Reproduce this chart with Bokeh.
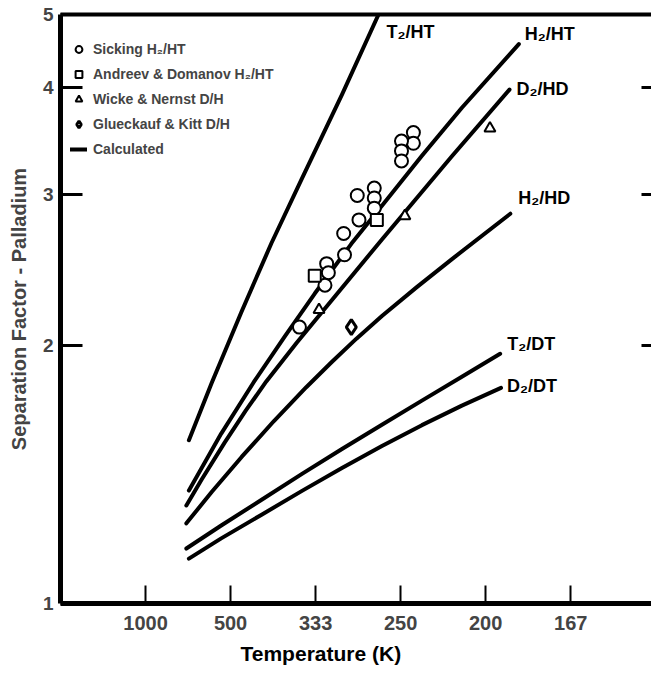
from bokeh.plotting import figure
from bokeh.models import (Range1d, FixedTicker, LinearAxis, LogAxis, Legend,
                          LegendItem, ColumnDataSource, Title)
from bokeh.embed import file_html
from bokeh.resources import INLINE
from bokeh.core.properties import value

# x axis is 1000/T, labelled with the temperature in K
x_ticks = [1, 2, 3, 4, 5, 6]
x_tick_labels = ["1000", "500", "333", "250", "200", "167"]
y_ticks = [1, 2, 3, 4, 4.86]
y_tick_labels = ["1", "2", "3", "4", "5"]
right_ticks = [2, 3, 4]

# Calculated separation factors
t2ht_x = [1.51, 1.78, 2.13, 2.48, 2.84, 3.31, 3.74]
t2ht_y = [1.55, 1.81, 2.19, 2.63, 3.13, 3.92, 4.86]
h2ht_x = [1.51, 1.89, 2.27, 2.64, 2.99, 3.42, 3.78, 4.25, 4.72, 5.39]
h2ht_y = [1.354, 1.578, 1.810, 2.050, 2.298, 2.626, 2.908, 3.326, 3.784, 4.489]
d2hd_x = [1.48, 1.66, 1.93, 2.18, 2.42, 2.78, 3.11, 3.78, 4.60, 5.28]
d2hd_y = [1.301, 1.395, 1.540, 1.679, 1.815, 2.015, 2.208, 2.657, 3.319, 3.973]
h2hd_x = [1.48, 1.78, 2.13, 2.51, 2.89, 3.19, 3.48, 3.78, 4.19, 4.60, 5.29]
h2hd_y = [1.240, 1.350, 1.482, 1.632, 1.787, 1.912, 2.036, 2.163, 2.338, 2.519, 2.847]
t2dt_x = [1.48, 1.89, 2.37, 2.84, 3.31, 3.78, 4.25, 4.72, 5.17]
t2dt_y = [1.159, 1.233, 1.322, 1.416, 1.514, 1.616, 1.724, 1.838, 1.955]
d2dt_x = [1.51, 1.89, 2.37, 2.84, 3.31, 3.78, 4.25, 4.72, 5.18]
d2dt_y = [1.128, 1.191, 1.270, 1.353, 1.439, 1.526, 1.614, 1.701, 1.784]

curve_names = ["T\u2082/HT", "H\u2082/HT", "D\u2082/HD", "H\u2082/HD", "T\u2082/DT", "D\u2082/DT"]

# Experimental data
sicking_x = [4.15, 4.15, 4.01, 4.01, 4.01, 3.49, 3.69, 3.69, 3.69, 3.51, 3.33, 3.34, 3.13, 3.15, 3.11, 2.81]
sicking_y = [3.54, 3.44, 3.46, 3.37, 3.28, 2.99, 3.05, 2.97, 2.89, 2.80, 2.70, 2.55, 2.49, 2.43, 2.35, 2.10]
andreev_x = [2.99, 3.72]
andreev_y = [2.41, 2.80]
wicke_x = [3.04, 4.05, 5.05]
wicke_y = [2.20, 2.83, 3.58]
glueckauf_x = [3.42]
glueckauf_y = [2.10]

FONT = "Liberation Sans"

p = figure(width=651, height=673, x_range=Range1d(0, 6.95), y_range=Range1d(1, 4.86),
           y_axis_type="log", output_backend="svg", toolbar_location=None,
           min_border_left=60, min_border_right=0, min_border_top=14, min_border_bottom=70)
p.outline_line_color = None
p.xgrid.visible = False
p.ygrid.visible = False
p.background_fill_color = "white"
p.border_fill_color = "white"

xa = p.xaxis[0]
xa.ticker = FixedTicker(ticks=x_ticks)
xa.major_label_overrides = dict(zip(x_ticks, x_tick_labels))
xa.minor_tick_line_color = None
xa.major_tick_in = 18
xa.major_tick_out = 0
xa.major_tick_line_width = 2
xa.axis_line_width = 5
xa.major_label_standoff = 12
xa.major_label_text_font = FONT
xa.major_label_text_font_style = "bold"
xa.major_label_text_font_size = "20px"

ya = p.yaxis[0]
ya.ticker = FixedTicker(ticks=y_ticks)
ya.major_label_overrides = dict(zip(y_ticks, y_tick_labels))
ya.minor_tick_line_color = None
ya.major_tick_in = 22
ya.major_tick_out = 0
ya.major_tick_line_width = 3
ya.axis_line_width = 5
ya.major_label_standoff = 7
ya.major_label_text_font = FONT
ya.major_label_text_font_style = "bold"
ya.major_label_text_font_size = "19px"
ya.axis_label = "Separation Factor - Palladium"
ya.axis_label_text_font = FONT
ya.axis_label_text_font_style = "bold"
ya.axis_label_text_font_size = "20px"
ya.axis_label_standoff = 10

xtitle = Title(text="Temperature (K)", align="left", offset=180, standoff=15,
               text_font=FONT, text_font_style="bold", text_font_size="21px",
               text_color="black")
p.add_layout(xtitle, "below")

top = LinearAxis(ticker=FixedTicker(ticks=[]), axis_line_width=4,
                 major_tick_in=0, major_tick_out=0, minor_tick_line_color=None)
p.add_layout(top, "above")

right = LogAxis(ticker=FixedTicker(ticks=[], minor_ticks=right_ticks), axis_line_color=None,
                major_tick_line_color=None, minor_tick_in=10, minor_tick_out=0,
                minor_tick_line_width=3, minor_tick_line_color="black")
p.add_layout(right, "right")

curves = [(t2ht_x, t2ht_y), (h2ht_x, h2ht_y), (d2hd_x, d2hd_y),
          (h2hd_x, h2hd_y), (t2dt_x, t2dt_y), (d2dt_x, d2dt_y)]
line_renderers = []
for cx, cy in curves:
    r = p.line(cx, cy, line_width=4, line_color="black", line_cap="round", line_join="round")
    line_renderers.append(r)

# curve labels anchored at the end of each curve
lab_src = ColumnDataSource(dict(
    x=[c[0][-1] for c in curves],
    y=[c[1][-1] for c in curves],
    text=curve_names,
    dx=[8, 6, 7, 8, 7, 6],
    dy=[17, -10, -1, -16, -10, -2],
))
p.text(x="x", y="y", text="text", x_offset="dx", y_offset="dy", source=lab_src,
       text_font=value(FONT), text_font_style="bold", text_font_size=value("18px"),
       text_baseline="middle", text_align="left", text_color="black")

r_sick = p.scatter(sicking_x, sicking_y, marker="circle", size=13, line_width=2,
                   line_color="black", fill_color="white")
r_andr = p.scatter(andreev_x, andreev_y, marker="square", size=12, line_width=2,
                   line_color="black", fill_color="white")
r_wick = p.scatter(wicke_x, wicke_y, marker="triangle", size=11, line_width=2,
                   line_color="black", fill_color="white")
r_glue = p.scatter(glueckauf_x, glueckauf_y, marker="diamond", size=15, line_width=3,
                   line_color="black", fill_color="white")

legend = Legend(items=[
    LegendItem(label="Sicking H\u2082/HT", renderers=[r_sick]),
    LegendItem(label="Andreev & Domanov H\u2082/HT", renderers=[r_andr]),
    LegendItem(label="Wicke & Nernst D/H", renderers=[r_wick]),
    LegendItem(label="Glueckauf & Kitt D/H", renderers=[r_glue]),
    LegendItem(label="Calculated", renderers=[line_renderers[0]]),
])
legend.location = (10, 445)
legend.margin = 0
legend.padding = 2
legend.spacing = 7
legend.glyph_width = 17
legend.glyph_height = 18
legend.label_height = 18
legend.label_standoff = 6
legend.border_line_color = None
legend.background_fill_alpha = 0
legend.label_text_font = FONT
legend.label_text_font_style = "bold"
legend.label_text_font_size = "14px"
p.add_layout(legend, "center")

open("out.html", "w").write(file_html(p, INLINE))
